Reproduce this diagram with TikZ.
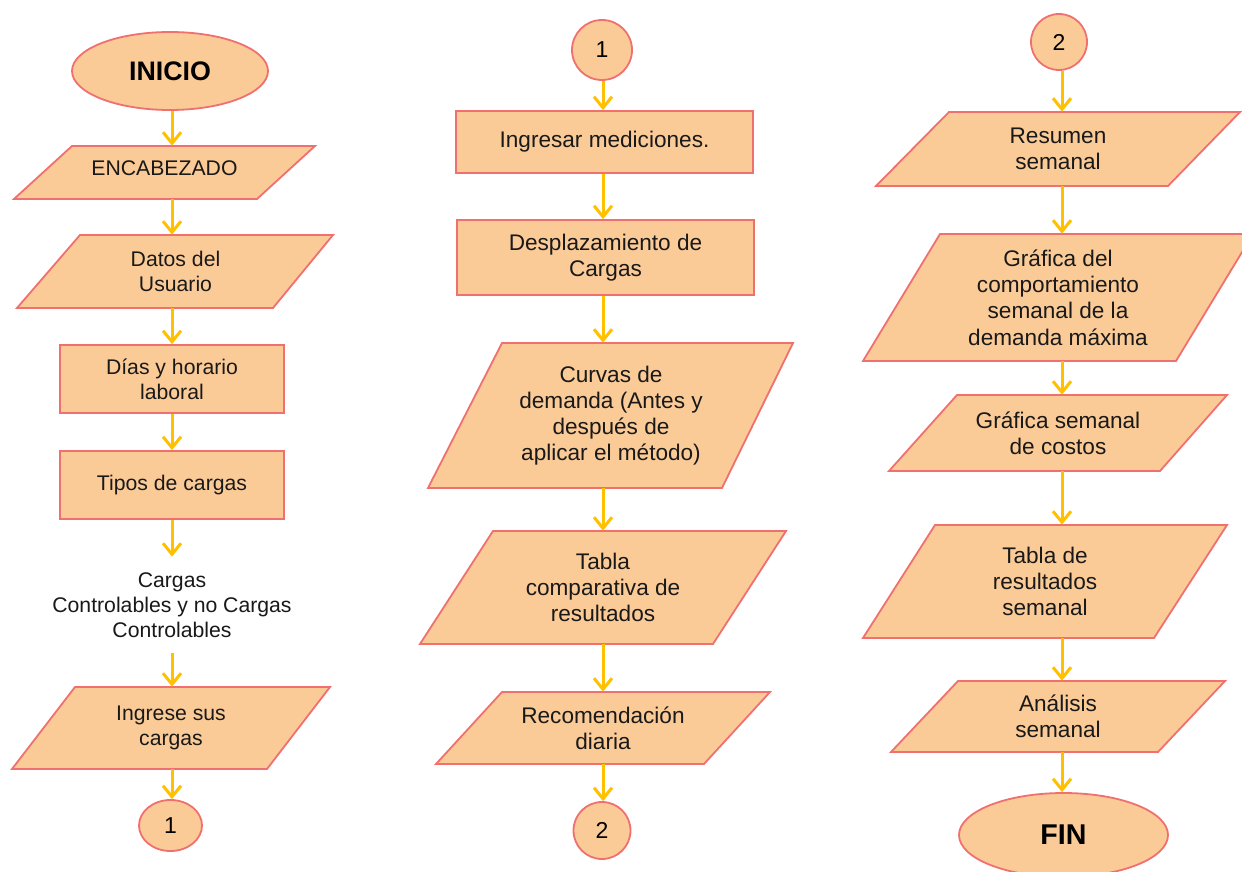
\documentclass[tikz,border=0pt]{standalone}
\usepackage{fontspec}
\setmainfont{Liberation Sans}
\usetikzlibrary{shapes.geometric,arrows.meta}

\definecolor{relleno}{RGB}{251,203,151}
\definecolor{borde}{RGB}{240,112,112}
\definecolor{oro}{RGB}{255,192,0}

\tikzset{
    caja/.style={draw=borde, fill=relleno, line width=0.9pt},
    texto/.style={inner sep=0pt, align=center, text=black!90, font=\fontsize{11.3}{13.1}\selectfont},
    textochico/.style={texto, font=\fontsize{10.6}{12.5}\selectfont},
    proceso/.style={caja, rectangle},
    terminal/.style={caja, ellipse, inner sep=0pt, font=\bfseries\fontsize{13.4}{15}\selectfont},
    conector/.style={caja, circle, inner sep=0pt, font=\fontsize{11.5}{13}\selectfont},
    flecha/.style={draw=oro, line width=1.5pt, -{Straight Barb[length=5.5pt,width=9pt]}},
}

\begin{document}
\begin{tikzpicture}[x=0.5pt, y=-0.5pt]

    \useasboundingbox (0,0) rectangle (1242,872);
    \fill[white] (0,0) rectangle (1242,872);
    \clip (0,0) rectangle (1242,872);

    % ejes de las columnas
    \coordinate (ejeA) at (172,0);
    \coordinate (ejeB) at (603,0);
    \coordinate (ejeC) at (1062,0);

    % Columna 1
    \node[terminal, minimum width=98pt, minimum height=39pt] (inicio) at (170,71) {INICIO};

    \draw[caja] (72,146) -- (315,146) -- (257,199) -- (14,199) -- cycle;
    \node[textochico, minimum width=121.5pt, minimum height=26.5pt] (encab) at (164.5,172.5) {\raisebox{4.75pt}{ENCABEZADO}};

    \draw[caja] (80,235) -- (333,235) -- (273,308) -- (17,308) -- cycle;
    \node[textochico, minimum width=127pt, minimum height=36.5pt] (datos) at (175.5,271.5) {Datos del\\Usuario};

    \node[proceso, textochico, minimum width=112pt, minimum height=34pt] (dias) at (172,379) {Días y horario\\laboral};
    \node[proceso, textochico, minimum width=112pt, minimum height=34pt] (tipos) at (172,485) {Tipos de cargas};

    \node[textochico, minimum height=48pt] (cargas) at (172,605) {Cargas\\Controlables y no Cargas\\Controlables};

    \draw[caja] (75,687) -- (330,687) -- (267,769) -- (12,769) -- cycle;
    \node[textochico, minimum width=127.5pt, minimum height=41pt] (ingrese) at (171,728) {Ingrese sus\\cargas};

    \node[caja, ellipse, inner sep=0pt, minimum width=31.5pt, minimum height=25.5pt, font=\fontsize{11.5}{13}\selectfont] (unoA) at (170.5,825.5) {1};

    \foreach \a/\b in {inicio/encab, encab/datos, datos/dias, dias/tipos, tipos/cargas, cargas/ingrese, ingrese/unoA}
        \draw[flecha] (\a.south -| ejeA) -- (\b.north -| ejeA);

    % Columna 2
    \node[conector, minimum size=30pt] (unoB) at (602,50) {1};

    \node[proceso, texto, minimum width=148.5pt, minimum height=31pt] (ingresar) at (604.5,142) {Ingresar mediciones.};
    \node[proceso, texto, minimum width=148.5pt, minimum height=37.5pt] (desplaz) at (605.5,257.5) {Desplazamiento de\\Cargas};

    \draw[caja] (502,343) -- (793,343) -- (722,488) -- (428,488) -- cycle;
    \node[texto, minimum width=146pt, minimum height=72.5pt] (curvas) at (611,415.5) {Curvas de\\demanda (Antes y\\después de\\aplicar el método)};

    \draw[caja] (493,531) -- (786,531) -- (713,644) -- (420,644) -- cycle;
    \node[texto, minimum width=146.5pt, minimum height=56.5pt] (tablac) at (603,587.5) {Tabla\\comparativa de\\resultados};

    \draw[caja] (502,692) -- (770,692) -- (704,764) -- (436,764) -- cycle;
    \node[texto, minimum width=134pt, minimum height=36pt] (recom) at (603,728) {Recomendación\\diaria};

    \node[conector, minimum size=28.5pt] (dosA) at (602,830.5) {2};

    \foreach \a/\b in {unoB/ingresar, ingresar/desplaz, desplaz/curvas, curvas/tablac, tablac/recom, recom/dosA}
        \draw[flecha] (\a.south -| ejeB) -- (\b.north -| ejeB);

    % Columna 3
    \node[conector, minimum size=28pt] (dosB) at (1059,42) {2};

    \draw[caja] (949,112) -- (1240,112) -- (1168,186) -- (876,186) -- cycle;
    \node[texto, minimum width=145.5pt, minimum height=37pt] (resumen) at (1058,149) {Resumen\\semanal};

    \draw[caja] (940,234) -- (1253,234) -- (1176,361) -- (863,361) -- cycle;
    \node[texto, minimum width=156.5pt, minimum height=63.5pt] (grafcomp) at (1058,297.5) {Gráfica del\\comportamiento\\semanal de la\\demanda máxima};

    \draw[caja] (957,395) -- (1227,395) -- (1160,471) -- (889,471) -- cycle;
    \node[texto, minimum width=135pt, minimum height=38pt] (grafcost) at (1058,433) {Gráfica semanal\\de costos};

    \draw[caja] (935,525) -- (1227,525) -- (1154,638) -- (863,638) -- cycle;
    \node[texto, minimum width=145.5pt, minimum height=56.5pt] (tablar) at (1045,581.5) {Tabla de\\resultados\\semanal};

    \draw[caja] (958,681) -- (1225,681) -- (1158,752) -- (891,752) -- cycle;
    \node[texto, minimum width=133.5pt, minimum height=35.5pt] (analisis) at (1058,716.5) {Análisis\\semanal};

    \node[terminal, minimum width=104.5pt, minimum height=42pt, font=\bfseries\fontsize{14.3}{16}\selectfont] (fin) at (1063.5,835) {FIN};

    \foreach \a/\b in {dosB/resumen, resumen/grafcomp, grafcomp/grafcost, grafcost/tablar, tablar/analisis, analisis/fin}
        \draw[flecha] (\a.south -| ejeC) -- (\b.north -| ejeC);

\end{tikzpicture}
\end{document}
